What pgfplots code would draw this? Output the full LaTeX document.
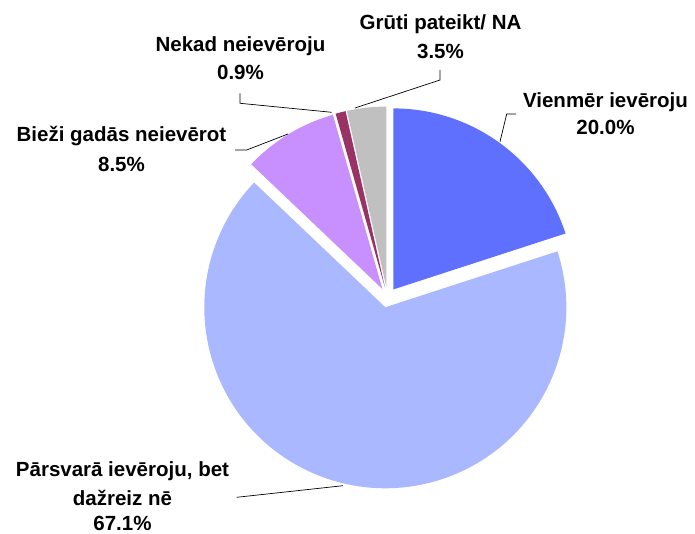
\documentclass[border=0pt]{standalone}
\usepackage{pgfplots}
\pgfplotsset{compat=1.18}
\usepackage{fontspec}
\setmainfont{Liberation Sans}
\definecolor{cA}{RGB}{95,112,255}
\definecolor{cB}{RGB}{170,184,255}
\definecolor{cC}{RGB}{200,144,255}
\definecolor{cD}{RGB}{153,51,102}
\definecolor{cE}{RGB}{192,192,192}
% pie values (percent), clockwise from 12 o'clock
\def\vA{20.0}\def\vB{67.1}\def\vC{8.5}\def\vD{0.9}\def\vE{3.5}
\tikzset{lab/.style={font=\fontsize{20.5bp}{28bp}\selectfont\bfseries, inner sep=0pt, anchor=base}}
\begin{document}
\begin{tikzpicture}
\begin{axis}[
  scale only axis, width=695bp, height=534bp,
  xmin=0, xmax=695, ymin=0, ymax=534,
  hide axis, clip=false,
]
\coordinate (SW) at (axis cs:0,0);
\coordinate (NE) at (axis cs:695,534);
% slices: start = 90 - 3.6*cum, explode 10bp along mid angle
\fill[cA] ([shift={({90-3.6*(0+\vA/2)}:10bp)}]axis cs:387.5,236.5) -- ++({90-3.6*0}:181bp)
   arc[start angle={90-3.6*0}, end angle={90-3.6*\vA}, radius=181bp] -- cycle;
\fill[cB] ([shift={({90-3.6*(20.0+\vB/2)}:10bp)}]axis cs:387.5,236.5) -- ++({90-3.6*20.0}:181bp)
   arc[start angle={90-3.6*20.0}, end angle={90-3.6*(20.0+\vB)}, radius=181bp] -- cycle;
\fill[cC] ([shift={({90-3.6*(87.1+\vC/2)}:10bp)}]axis cs:387.5,236.5) -- ++({90-3.6*87.1}:181bp)
   arc[start angle={90-3.6*87.1}, end angle={90-3.6*(87.1+\vC)}, radius=181bp] -- cycle;
\fill[cD] ([shift={({90-3.6*(95.6+\vD/2)}:10bp)}]axis cs:387.5,236.5) -- ++({90-3.6*95.6}:181bp)
   arc[start angle={90-3.6*95.6}, end angle={90-3.6*(95.6+\vD)}, radius=181bp] -- cycle;
\fill[cE] ([shift={({90-3.6*(96.5+\vE/2)}:10bp)}]axis cs:387.5,236.5) -- ++({90-3.6*96.5}:181bp)
   arc[start angle={90-3.6*96.5}, end angle={90-3.6*(96.5+\vE)}, radius=181bp] -- cycle;
% leader lines
\draw[black, line width=0.7pt] (axis cs:500,392.3) -- (axis cs:506.7,420) -- (axis cs:516,420);
\draw[black, line width=0.7pt] (axis cs:288,400) -- (axis cs:246.7,384) -- (axis cs:235,384);
\draw[black, line width=0.7pt] (axis cs:355,426) -- (axis cs:440,454) -- (axis cs:440,464);
\draw[black, line width=0.7pt] (axis cs:331.7,421.7) -- (axis cs:240,430.7) -- (axis cs:240,440.7);
\draw[black, line width=0.7pt] (axis cs:343,48.3) -- (axis cs:236.7,36.7);
% labels
\node[lab] at (axis cs:440.5,504) {Grūti pateikt/ NA};
\node[lab] at (axis cs:440.5,475) {3.5\%};
\node[lab] at (axis cs:240.5,482.3) {Nekad neievēroju};
\node[lab] at (axis cs:240.5,454) {0.9\%};
\node[lab] at (axis cs:605.5,426.7) {Vienmēr ievēroju};
\node[lab] at (axis cs:605.5,399) {20.0\%};
\node[lab] at (axis cs:121.5,392) {Bieži gadās neievērot};
\node[lab] at (axis cs:121.5,362) {8.5\%};
\node[lab] at (axis cs:122.5,57.3) {Pārsvarā ievēroju, bet};
\node[lab] at (axis cs:122.5,28.3) {dažreiz nē};
\node[lab] at (axis cs:122.5,4) {67.1\%};
\end{axis}
\pgfresetboundingbox
\useasboundingbox (SW) rectangle (NE);
\end{tikzpicture}
\end{document}
